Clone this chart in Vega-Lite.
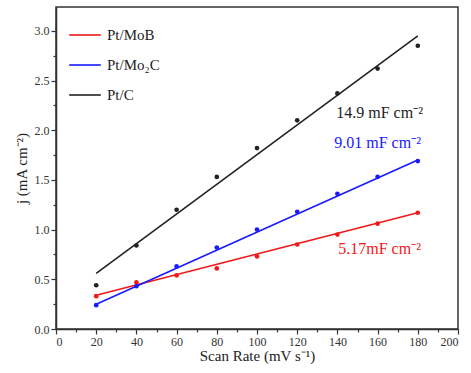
{
  "$schema": "https://vega.github.io/schema/vega-lite/v6.json",
  "width": 402,
  "height": 322,
  "autosize": {"type": "none"},
  "padding": {"left": 56, "top": 7, "right": 13, "bottom": 44},
  "config": {
    "font": "Liberation Serif",
    "view": {"stroke": "#333", "strokeWidth": 1.5},
    "axis": {"labelFont": "Liberation Serif", "titleFont": "Liberation Serif", "labelFontSize": 12, "titleFontSize": 15, "titleFontWeight": "normal", "labelColor": "#333", "titleColor": "#222", "domainColor": "#333", "tickColor": "#333", "domainWidth": 1.5, "tickWidth": 1.2, "grid": false}
  },
  "datasets": {
    "pts": [
      {"series": "Pt/MoB", "rate": 20, "j": 0.33},
      {"series": "Pt/MoB", "rate": 40, "j": 0.47},
      {"series": "Pt/MoB", "rate": 60, "j": 0.54},
      {"series": "Pt/MoB", "rate": 80, "j": 0.61},
      {"series": "Pt/MoB", "rate": 100, "j": 0.73},
      {"series": "Pt/MoB", "rate": 120, "j": 0.85},
      {"series": "Pt/MoB", "rate": 140, "j": 0.95},
      {"series": "Pt/MoB", "rate": 160, "j": 1.06},
      {"series": "Pt/MoB", "rate": 180, "j": 1.17},
      {"series": "Pt/Mo₂C", "rate": 20, "j": 0.24},
      {"series": "Pt/Mo₂C", "rate": 40, "j": 0.43},
      {"series": "Pt/Mo₂C", "rate": 60, "j": 0.63},
      {"series": "Pt/Mo₂C", "rate": 80, "j": 0.82},
      {"series": "Pt/Mo₂C", "rate": 100, "j": 1.0},
      {"series": "Pt/Mo₂C", "rate": 120, "j": 1.18},
      {"series": "Pt/Mo₂C", "rate": 140, "j": 1.36},
      {"series": "Pt/Mo₂C", "rate": 160, "j": 1.53},
      {"series": "Pt/Mo₂C", "rate": 180, "j": 1.69},
      {"series": "Pt/C", "rate": 20, "j": 0.44},
      {"series": "Pt/C", "rate": 40, "j": 0.84},
      {"series": "Pt/C", "rate": 60, "j": 1.2},
      {"series": "Pt/C", "rate": 80, "j": 1.53},
      {"series": "Pt/C", "rate": 100, "j": 1.82},
      {"series": "Pt/C", "rate": 120, "j": 2.1},
      {"series": "Pt/C", "rate": 140, "j": 2.37},
      {"series": "Pt/C", "rate": 160, "j": 2.62},
      {"series": "Pt/C", "rate": 180, "j": 2.85}
    ],
    "fits": [
      {"series": "Pt/MoB", "rate": 20, "j": 0.34},
      {"series": "Pt/MoB", "rate": 180, "j": 1.17},
      {"series": "Pt/Mo₂C", "rate": 20, "j": 0.25},
      {"series": "Pt/Mo₂C", "rate": 180, "j": 1.70},
      {"series": "Pt/C", "rate": 20, "j": 0.56},
      {"series": "Pt/C", "rate": 180, "j": 2.95}
    ],
    "notes": [
      {"series": "Pt/C", "rate": 161, "j": 2.17, "label": "14.9 mF cm⁻²"},
      {"series": "Pt/Mo₂C", "rate": 160, "j": 1.87, "label": "9.01 mF cm⁻²"},
      {"series": "Pt/MoB", "rate": 161, "j": 0.8, "label": "5.17mF cm⁻²"}
    ]
  },
  "resolve": {"axis": {"x": "independent", "y": "independent"}},
  "layer": [
    {
      "data": {"name": "fits"},
      "mark": {"type": "line", "strokeWidth": 1.6},
      "encoding": {
        "x": {"field": "rate", "type": "quantitative", "scale": {"domain": [0, 200], "nice": false},
          "axis": {"orient": "bottom", "values": [0,20,40,60,80,100,120,140,160,180,200], "title": "Scan Rate (mV s⁻¹)", "tickSize": 5, "labelPadding": 2, "titlePadding": 1}},
        "y": {"field": "j", "type": "quantitative", "scale": {"domain": [0, 3.24], "nice": false},
          "axis": {"orient": "left", "values": [0,0.5,1,1.5,2,2.5,3], "format": ".1f", "title": "j (mA cm⁻²)", "tickSize": 5, "labelPadding": 2, "titlePadding": 5}},
        "color": {"field": "series", "type": "nominal",
          "scale": {"domain": ["Pt/MoB", "Pt/Mo₂C", "Pt/C"], "range": ["#f01818", "#1a1aff", "#222222"]},
          "legend": {"orient": "none", "legendX": 12, "legendY": 11, "title": null, "symbolType": "stroke", "symbolSize": 1000, "symbolStrokeWidth": 1.6, "labelFont": "Liberation Serif", "labelFontSize": 15, "labelColor": "#222", "rowPadding": 5, "labelOffset": 5}}
      }
    },
    {
      "data": {"name": "pts"},
      "mark": {"type": "circle", "size": 22, "opacity": 1},
      "encoding": {
        "x": {"field": "rate", "type": "quantitative",
          "axis": {"orient": "bottom", "values": [10,30,50,70,90,110,130,150,170,190], "labels": false, "title": null, "tickSize": 3, "domain": false}},
        "y": {"field": "j", "type": "quantitative",
          "axis": {"orient": "left", "values": [0.25,0.75,1.25,1.75,2.25,2.75,3.25], "labels": false, "title": null, "tickSize": 3, "domain": false}},
        "color": {"field": "series", "type": "nominal", "legend": null}
      }
    },
    {
      "data": {"name": "notes"},
      "mark": {"type": "text", "fontSize": 16, "font": "Liberation Serif", "align": "center", "baseline": "middle"},
      "encoding": {
        "x": {"field": "rate", "type": "quantitative", "axis": null},
        "y": {"field": "j", "type": "quantitative", "axis": null},
        "text": {"field": "label"},
        "color": {"field": "series", "type": "nominal", "legend": null}
      }
    }
  ]
}
